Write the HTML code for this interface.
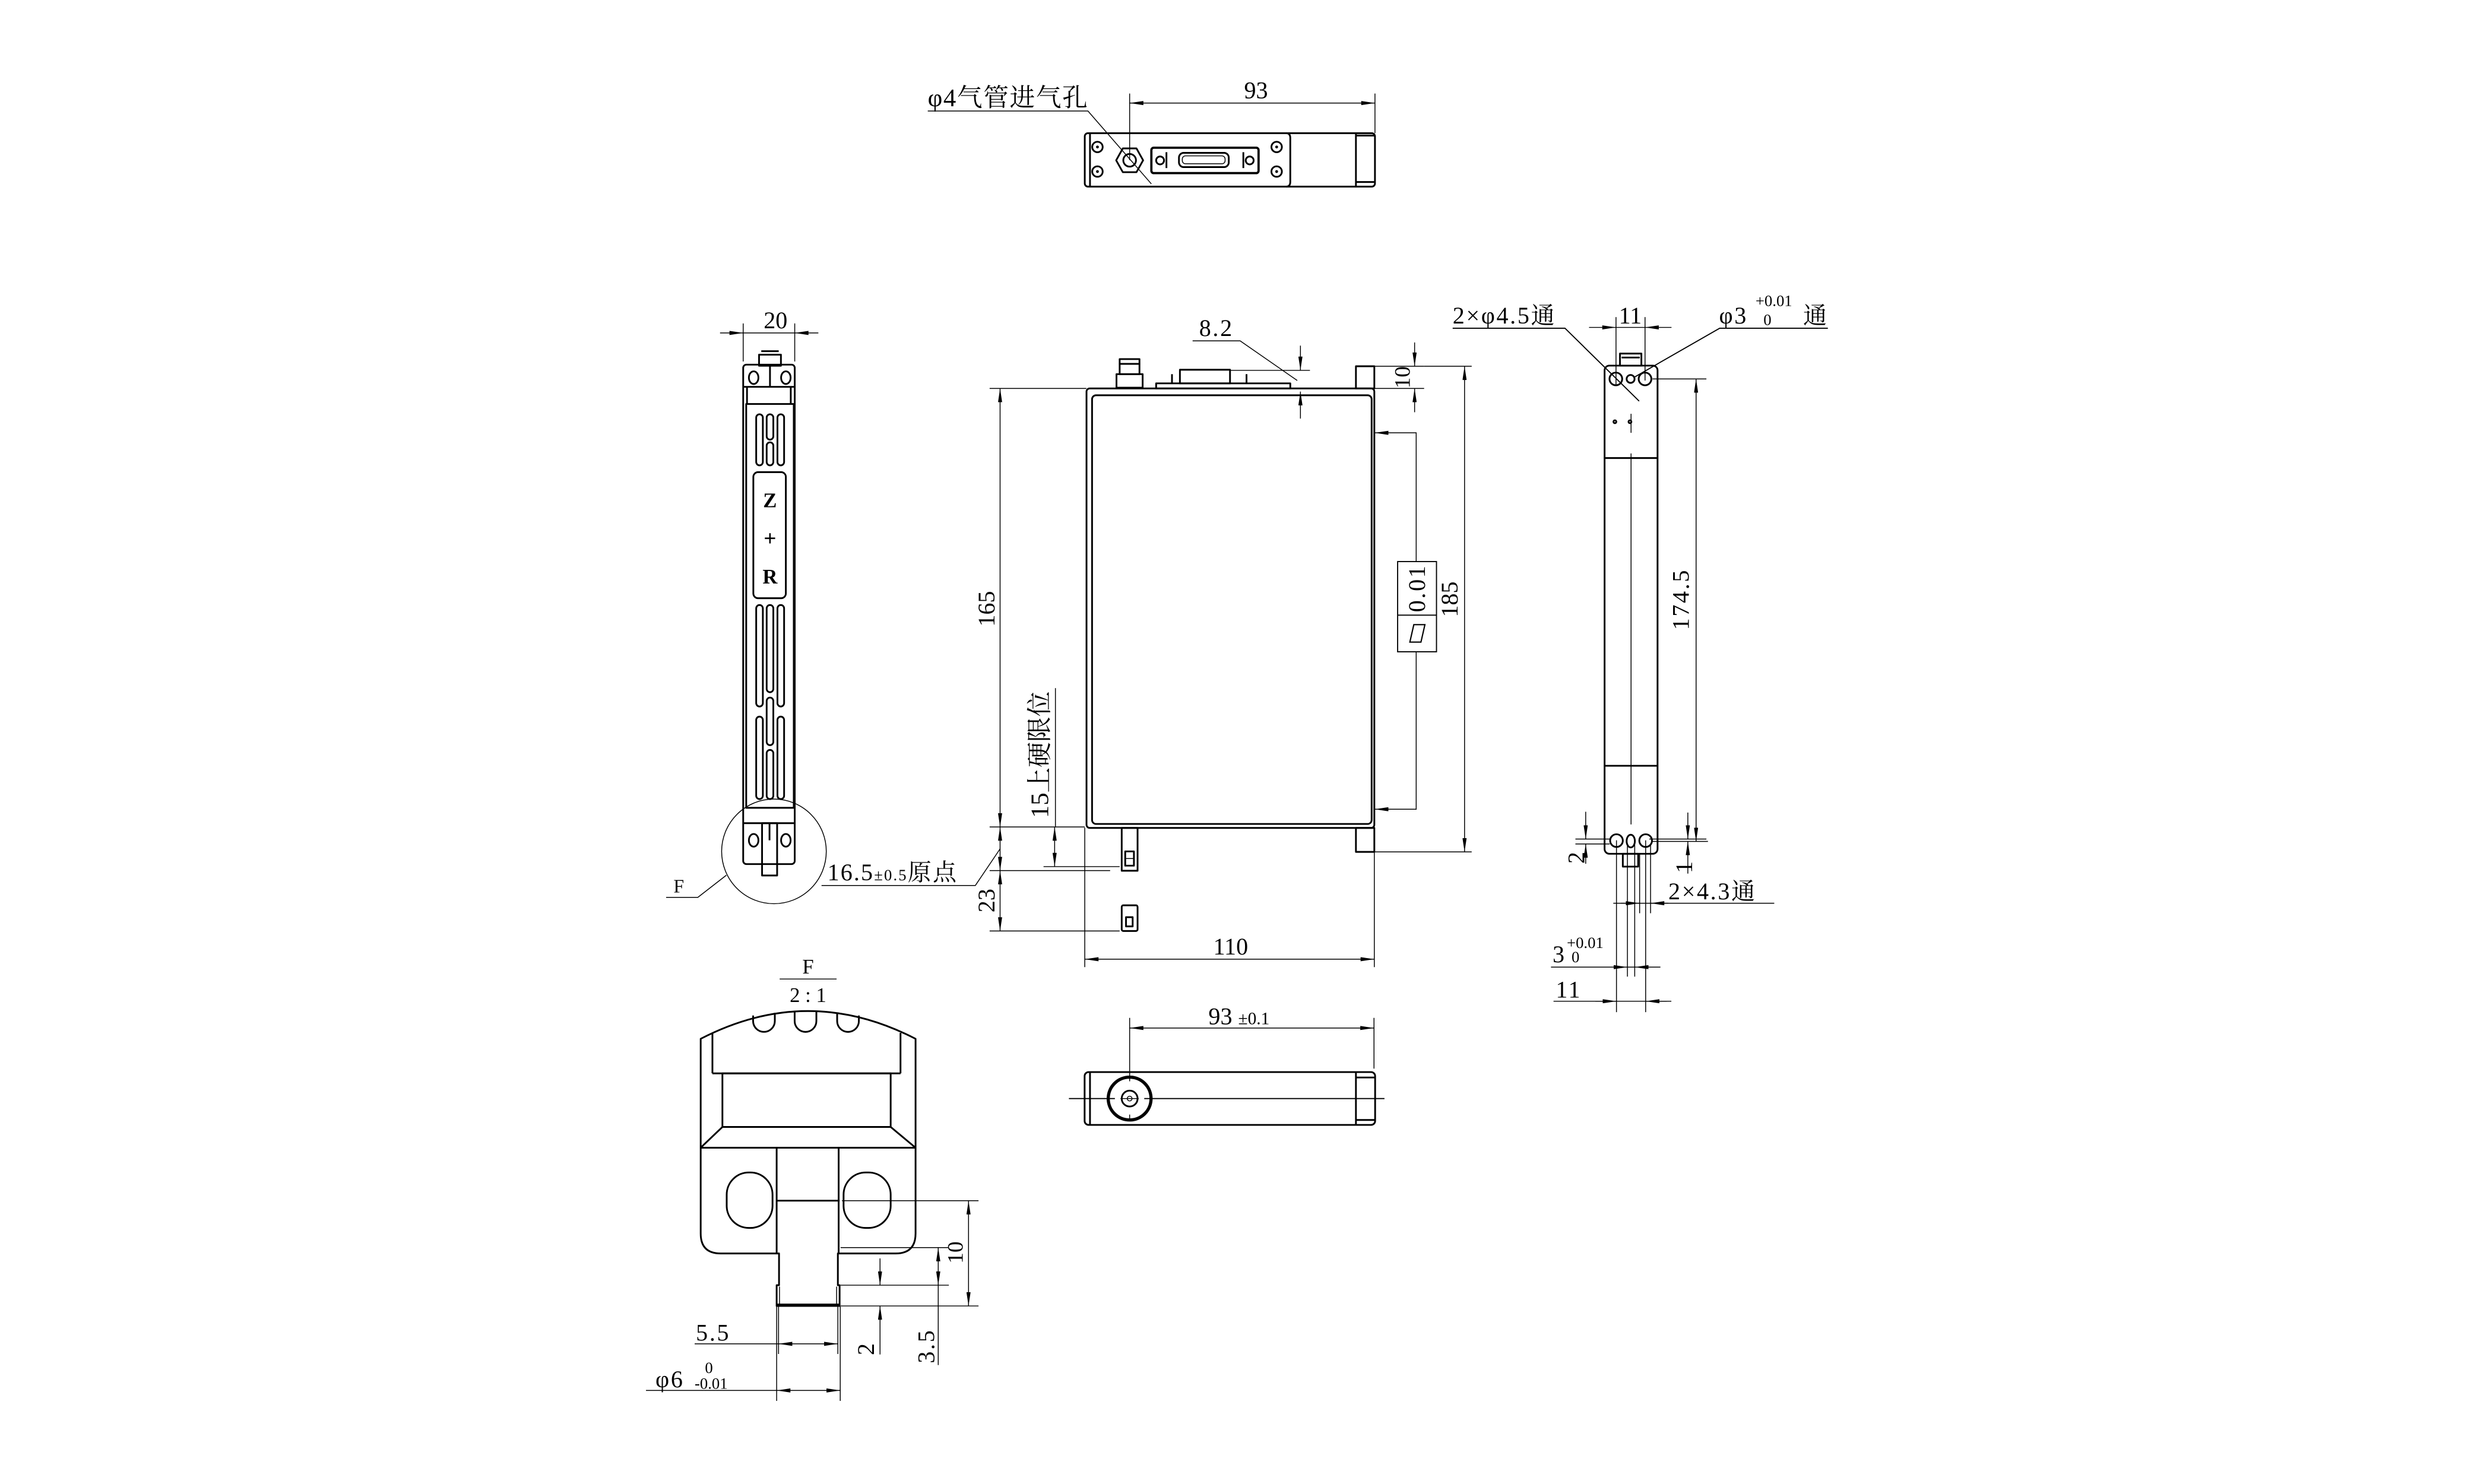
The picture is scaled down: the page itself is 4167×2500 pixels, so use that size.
<!DOCTYPE html>
<html><head><meta charset="utf-8"><style>
html,body{margin:0;padding:0;background:#fff;}
svg{display:block;}
.k{fill:none;stroke:#000;stroke-width:1.1;stroke-linejoin:round;}
.t{fill:none;stroke:#000;stroke-width:0.55;}
.d{fill:none;stroke:#000;stroke-width:0.55;marker-start:url(#a);marker-end:url(#a);}
.e{fill:none;stroke:#000;stroke-width:0.55;marker-end:url(#a);}
text{font-family:"Liberation Serif","Noto Serif CJK SC",serif;font-size:15px;fill:#000;}
.s{font-size:10px;}
.w{letter-spacing:1px;}
</style></head><body>
<svg width="4167" height="2500" viewBox="0 0 1560 936" xmlns="http://www.w3.org/2000/svg">
<defs>
<marker id="a" viewBox="0 0 10 3" refX="10" refY="1.5" markerWidth="9" markerHeight="2.6" markerUnits="userSpaceOnUse" orient="auto-start-reverse"><path d="M0,0 L10,1.5 L0,3 z" fill="#000"/></marker>
</defs>
<rect width="1560" height="936" fill="#fff"/>

<!-- ============ TOP VIEW ============ -->
<rect class="k" x="684" y="84" width="183" height="33.7" rx="2"/>
<line class="k" x1="687.3" y1="84" x2="687.3" y2="117.7"/>
<path class="k" d="M811,84 Q813.6,84 813.6,87 L813.6,114.7 Q813.6,117.7 811,117.7"/>
<line class="k" x1="855" y1="84" x2="855" y2="117.7"/>
<line class="k" x1="855" y1="85.5" x2="867" y2="85.5"/>
<line class="k" x1="855" y1="114.8" x2="867" y2="114.8"/>
<g class="k">
<circle cx="692" cy="92.7" r="3.3"/><circle cx="692" cy="108.2" r="3.3"/>
<circle cx="805" cy="92.7" r="3.3"/><circle cx="805" cy="108.2" r="3.3"/>
</g>
<g fill="#000"><circle cx="692" cy="92.7" r="0.9"/><circle cx="692" cy="108.2" r="0.9"/><circle cx="805" cy="92.7" r="0.9"/><circle cx="805" cy="108.2" r="0.9"/></g>
<polygon class="k" points="720.8,101.1 716.6,108.6 708,108.6 703.8,101.1 708,93.6 716.6,93.6"/>
<circle class="k" cx="712.3" cy="101.1" r="4"/>
<rect class="k" x="726" y="93.2" width="67.6" height="16" rx="1.5" style="stroke-width:1.4"/>
<rect class="k" x="743.4" y="96.4" width="31.4" height="9" rx="3"/>
<rect class="t" x="745.5" y="98.3" width="27" height="5" rx="2"/>
<circle class="k" cx="731.5" cy="101.2" r="2.5"/><circle class="k" cx="788" cy="101.2" r="2.5"/>
<line class="k" x1="735.5" y1="96" x2="735.5" y2="106"/><line class="k" x1="784" y1="96" x2="784" y2="106"/>
<line class="t" x1="712.3" y1="101" x2="712.3" y2="59"/>
<line class="t" x1="867" y1="84" x2="867" y2="59"/>
<line class="d" x1="712.3" y1="65" x2="867" y2="65"/>
<text x="792" y="62" text-anchor="middle">93</text>
<text x="585" y="67" style="font-size:16px;letter-spacing:0.6px">φ4气管进气孔</text>
<polyline class="t" points="585,70 686,70 726,116"/>

<!-- ============ MAIN FRONT VIEW ============ -->
<rect class="k" x="685.1" y="245" width="181.5" height="277.2" rx="2"/>
<rect class="k" x="688.6" y="249.3" width="176.3" height="270.4" rx="2.5"/>
<rect class="k" x="855" y="231" width="11.6" height="14"/>
<rect class="k" x="855" y="522.2" width="11.6" height="15.1"/>
<rect class="k" x="729" y="241.8" width="84.6" height="3.2"/>
<rect class="k" x="744" y="233.2" width="31.6" height="8.6"/>
<line class="k" x1="739" y1="236" x2="739" y2="241.8"/><line class="k" x1="786" y1="236" x2="786" y2="241.8"/>
<rect class="k" x="704" y="236" width="16.5" height="8.5"/>
<rect class="k" x="706" y="226.5" width="12.5" height="9.5"/>
<line class="k" x1="706" y1="229.5" x2="718.5" y2="229.5"/>
<rect class="k" x="707.3" y="522.2" width="10" height="27"/>
<rect class="k" x="709.5" y="537" width="5.5" height="9"/>
<line class="t" x1="709.5" y1="541.5" x2="715" y2="541.5"/>
<rect class="k" x="707.3" y="571" width="10" height="16.2" rx="1"/>
<rect class="k" x="710" y="578.5" width="4.2" height="5.8"/>
<line class="t" x1="624" y1="245" x2="685" y2="245"/>
<line class="t" x1="624" y1="521.6" x2="684" y2="521.6"/>
<line class="t" x1="624" y1="549.1" x2="700" y2="549.1"/>
<line class="t" x1="658" y1="546.6" x2="706" y2="546.6"/>
<line class="t" x1="624" y1="587.2" x2="706" y2="587.2"/>
<line class="t" x1="684" y1="522" x2="684" y2="610"/>
<line class="t" x1="866.6" y1="537" x2="866.6" y2="610"/>
<line class="d" x1="630.6" y1="245" x2="630.6" y2="521.6"/>
<text transform="translate(627,384) rotate(-90)" text-anchor="middle">165</text>
<line class="d" x1="630.6" y1="521.6" x2="630.6" y2="549.1"/>
<line class="d" x1="630.6" y1="549.1" x2="630.6" y2="587.2"/>
<text transform="translate(627,568) rotate(-90)" text-anchor="middle">23</text>
<line class="d" x1="665" y1="521.6" x2="665" y2="546.6"/>
<line class="t" x1="665.5" y1="434" x2="665.5" y2="521.6"/>
<text transform="translate(661,476) rotate(-90)" text-anchor="middle" style="font-size:16px">15上硬限位</text>
<text x="521.7" y="555.3" style="letter-spacing:0.8px">16.5<tspan class="s">±0.5</tspan>原点</text>
<polyline class="t" points="518,558.5 615,558.5 630.6,535.4"/>
<line class="d" x1="684" y1="605" x2="866.6" y2="605"/>
<text x="776" y="602" text-anchor="middle">110</text>
<line class="t" x1="776" y1="233.6" x2="826" y2="233.6"/>
<line class="e" x1="820" y1="218" x2="820" y2="233.6"/>
<line class="e" x1="820" y1="264" x2="820" y2="247"/>
<text x="767" y="212" text-anchor="middle" class="w">8.2</text>
<polyline class="t" points="752,215 782,215 818,240"/>
<line class="t" x1="867" y1="231" x2="898" y2="231"/>
<line class="t" x1="867" y1="245" x2="898" y2="245"/>
<line class="e" x1="892" y1="216" x2="892" y2="231"/>
<line class="e" x1="892" y1="260" x2="892" y2="245"/>
<text transform="translate(889,238) rotate(-90)" text-anchor="middle" style="font-size:14px">10</text>
<line class="t" x1="898" y1="231" x2="928" y2="231"/>
<line class="t" x1="867" y1="537.3" x2="928" y2="537.3"/>
<line class="d" x1="923.5" y1="231" x2="923.5" y2="537.3"/>
<text transform="translate(919,378) rotate(-90)" text-anchor="middle">185</text>
<polyline class="t" points="893,354 893,273 866.8,273" style="marker-end:url(#a)"/>
<polyline class="t" points="893,411 893,510.4 866.8,510.4" style="marker-end:url(#a)"/>
<rect class="t" x="881.3" y="354.2" width="24.5" height="56.9" style="stroke-width:0.7"/>
<line class="t" x1="881.3" y1="388" x2="905.8" y2="388" style="stroke-width:0.7"/>
<text transform="translate(898.5,371) rotate(-90)" text-anchor="middle" class="w">0.01</text>
<polygon class="t" points="889,405 896,405 898.5,394 891.5,394" style="stroke-width:0.8"/>

<!-- ============ LEFT SIDE VIEW ============ -->
<rect class="k" x="468.6" y="230" width="32.5" height="315" rx="2"/>
<rect class="k" x="478.6" y="223.7" width="13.8" height="7"/>
<line class="k" x1="480" y1="221.5" x2="491" y2="221.5"/>
<line class="k" x1="485.5" y1="230" x2="485.5" y2="244"/>
<ellipse class="k" cx="475.2" cy="238.2" rx="3" ry="4"/>
<ellipse class="k" cx="495.5" cy="238.2" rx="3" ry="4"/>
<line class="k" x1="468.6" y1="244" x2="501.1" y2="244"/>
<line class="k" x1="471" y1="244" x2="471" y2="254.8"/><line class="k" x1="498.6" y1="244" x2="498.6" y2="254.8"/>
<rect class="k" x="470.5" y="254.8" width="30" height="254.7"/>
<line class="k" x1="468.6" y1="519.2" x2="501.1" y2="519.2"/>
<ellipse class="k" cx="475.2" cy="530" rx="3" ry="4"/>
<ellipse class="k" cx="495.5" cy="530" rx="3" ry="4"/>
<rect class="k" x="480.5" y="519.2" width="9.5" height="33"/>
<line class="k" x1="485.2" y1="519.2" x2="485.2" y2="530"/>
<g class="k">
<rect x="476.8" y="261.3" width="4.2" height="32.2" rx="2.1"/>
<rect x="483.4" y="261.3" width="4.2" height="16" rx="2.1"/>
<rect x="483.4" y="279" width="4.2" height="14.5" rx="2.1"/>
<rect x="490.2" y="261.3" width="4.2" height="32.2" rx="2.1"/>
<rect x="476.8" y="381.6" width="4.2" height="64" rx="2.1"/>
<rect x="476.8" y="452" width="4.2" height="52" rx="2.1"/>
<rect x="483.4" y="381.6" width="4.2" height="55" rx="2.1"/>
<rect x="483.4" y="440" width="4.2" height="30" rx="2.1"/>
<rect x="483.4" y="473" width="4.2" height="31" rx="2.1"/>
<rect x="490.2" y="381.6" width="4.2" height="64" rx="2.1"/>
<rect x="490.2" y="452" width="4.2" height="52" rx="2.1"/>
</g>
<rect class="k" x="475" y="297.8" width="20.5" height="79.5" rx="3"/>
<text x="485.5" y="320" text-anchor="middle" style="font-weight:bold;font-size:13px">Z</text>
<text x="485.5" y="344" text-anchor="middle" style="font-weight:bold;font-size:14px">+</text>
<text x="485.5" y="368" text-anchor="middle" style="font-weight:bold;font-size:13px">R</text>
<line class="t" x1="468.6" y1="228" x2="468.6" y2="204"/>
<line class="t" x1="501.1" y1="228" x2="501.1" y2="204"/>
<line class="e" x1="454" y1="210" x2="468.6" y2="210"/>
<line class="e" x1="516" y1="210" x2="501.1" y2="210"/>
<line class="t" x1="468.6" y1="210" x2="501.1" y2="210"/>
<text x="489" y="207" text-anchor="middle">20</text>
<circle class="t" cx="488" cy="537" r="33"/>
<polyline class="t" points="420,566 440,566 458,552"/>
<text x="428" y="563" text-anchor="middle" style="font-size:12px">F</text>

<!-- ============ DETAIL F ============ -->
<text x="509.5" y="614" text-anchor="middle" style="font-size:13px">F</text>
<line class="t" x1="491.6" y1="617.5" x2="527.5" y2="617.5"/>
<text x="509.5" y="632" text-anchor="middle" style="font-size:13px">2 : 1</text>
<path class="k" d="M441.8,655.2 Q509.5,620.2 577.3,655.2 L577.3,778 Q577.3,790.6 564.7,790.6 L528.3,790.6 L528.3,810.6 L529.4,810.6 L529.4,823.7 L489.7,823.7 L489.7,810.6 L491.2,810.6 L491.2,790.6 L454.4,790.6 Q441.8,790.6 441.8,778 Z"/>
<line class="k" x1="449.2" y1="651.5" x2="449.2" y2="677"/>
<line class="k" x1="567.8" y1="651.5" x2="567.8" y2="677"/>
<line class="k" x1="449.2" y1="677" x2="567.8" y2="677"/>
<rect class="k" x="455.5" y="677" width="106.1" height="33.8"/>
<polyline class="k" points="441.8,723.9 455.5,710.8 561.6,710.8 577.3,723.9"/>
<line class="k" x1="441.8" y1="723.9" x2="577.3" y2="723.9"/>
<line class="k" x1="489.7" y1="723.9" x2="489.7" y2="790.6"/>
<line class="k" x1="528.8" y1="723.9" x2="528.8" y2="790.6"/>
<line class="k" x1="489.7" y1="757.3" x2="529.4" y2="757.3"/>
<line class="t" x1="491.5" y1="811.5" x2="491.5" y2="823"/><line class="t" x1="527.5" y1="811.5" x2="527.5" y2="823"/>
<line class="k" x1="490" y1="822.8" x2="529" y2="822.8"/>
<path class="k" d="M474.85,640.5 L474.85,644 A6.85,6.85 0 0 0 488.55,644 L488.55,638.8"/>
<path class="k" d="M501.05,637.9 L501.05,644 A6.85,6.85 0 0 0 514.75,644 L514.75,637.9"/>
<path class="k" d="M527.85,638.8 L527.85,644 A6.85,6.85 0 0 0 541.55,644 L541.55,640.5"/>
<rect class="k" x="458.2" y="739.5" width="28.9" height="35" rx="14"/>
<rect class="k" x="531.9" y="739.5" width="29.7" height="35" rx="14"/>
<line class="t" x1="530.9" y1="757.3" x2="617" y2="757.3"/>
<line class="t" x1="530" y1="823.7" x2="617" y2="823.7"/>
<line class="t" x1="530" y1="786.9" x2="598.3" y2="786.9"/>
<line class="t" x1="530" y1="810.6" x2="598.3" y2="810.6"/>
<line class="d" x1="610.7" y1="757.3" x2="610.7" y2="823.7"/>
<text transform="translate(607,790) rotate(-90)" text-anchor="middle" style="font-size:14px">10</text>
<line class="d" x1="591.6" y1="786.9" x2="591.6" y2="810.6"/>
<line class="t" x1="591.6" y1="810.6" x2="591.6" y2="861"/>
<text transform="translate(589,849) rotate(-90)" text-anchor="middle" class="w">3.5</text>
<line class="e" x1="554.9" y1="793.7" x2="554.9" y2="810.6"/>
<line class="e" x1="554.9" y1="854.3" x2="554.9" y2="823.7"/>
<text transform="translate(551,851) rotate(-90)" text-anchor="middle">2</text>
<line class="t" x1="490.9" y1="824" x2="490.9" y2="854"/>
<line class="t" x1="528.3" y1="824" x2="528.3" y2="854"/>
<line class="t" x1="438" y1="847.6" x2="490.9" y2="847.6"/>
<line class="d" x1="490.9" y1="847.6" x2="528.3" y2="847.6"/>
<text x="438.8" y="845.5" class="w">5.5</text>
<line class="t" x1="489.7" y1="824" x2="489.7" y2="883.6"/>
<line class="t" x1="529.8" y1="824" x2="529.8" y2="883.6"/>
<line class="t" x1="407.3" y1="877" x2="489.7" y2="877"/>
<line class="d" x1="489.7" y1="877" x2="529.8" y2="877"/>
<text x="413.3" y="875" class="w">φ6</text>
<text x="447" y="866" class="s" text-anchor="middle">0</text>
<text x="438" y="876" class="s">-0.01</text>

<!-- ============ RIGHT SIDE VIEW ============ -->
<rect class="k" x="1011.8" y="230.6" width="33.4" height="307.9" rx="3"/>
<rect class="k" x="1021.5" y="223" width="13.5" height="7.6"/>
<line class="k" x1="1022.5" y1="225.5" x2="1034" y2="225.5"/>
<line class="k" x1="1011.8" y1="288.9" x2="1045.2" y2="288.9"/>
<line class="k" x1="1011.8" y1="483" x2="1045.2" y2="483"/>
<line class="t" x1="1028.5" y1="261" x2="1028.5" y2="273"/>
<line class="t" x1="1028.5" y1="286" x2="1028.5" y2="520"/>
<circle class="k" cx="1018.9" cy="239" r="4"/>
<circle class="k" cx="1028.2" cy="239" r="2.5"/>
<circle class="k" cx="1037.3" cy="239" r="4"/>
<circle class="k" cx="1018.3" cy="266" r="0.9"/><circle class="k" cx="1027.8" cy="266" r="0.9"/>
<circle class="k" cx="1019.3" cy="530.2" r="4"/>
<ellipse class="k" cx="1028.3" cy="530.5" rx="2.6" ry="4"/>
<circle class="k" cx="1037.7" cy="530.2" r="4"/>
<rect class="k" x="1023.3" y="538.5" width="9.7" height="8.1"/>
<line class="t" x1="1019.3" y1="530" x2="1019.3" y2="638.4"/>
<line class="t" x1="1037.7" y1="530" x2="1037.7" y2="638.4"/>
<line class="t" x1="1026.2" y1="532" x2="1026.2" y2="616"/>
<line class="t" x1="1030.8" y1="532" x2="1030.8" y2="616"/>
<line class="t" x1="1033.9" y1="538" x2="1033.9" y2="576"/>
<line class="t" x1="1040.8" y1="532" x2="1040.8" y2="576"/>
<line class="t" x1="1019" y1="243" x2="1019" y2="200"/>
<line class="t" x1="1037.3" y1="240" x2="1037.3" y2="200"/>
<line class="e" x1="1002" y1="206.5" x2="1019" y2="206.5"/>
<line class="e" x1="1054" y1="206.5" x2="1037.3" y2="206.5"/>
<line class="t" x1="1019" y1="206.5" x2="1037.3" y2="206.5"/>
<text x="1028" y="204" text-anchor="middle">11</text>
<text x="916" y="204" class="w">2×φ4.5通</text>
<polyline class="t" points="916,207 986.8,207 1033.6,253" style="stroke-width:0.7"/>
<text x="1084" y="204" class="w">φ3</text>
<text x="1107" y="193" class="s">+0.01</text>
<text x="1112" y="205" class="s">0</text>
<text x="1137" y="204">通</text>
<polyline class="t" points="1152.6,207 1084.4,207 1030.9,237.7" style="stroke-width:0.7"/>
<line class="t" x1="1042" y1="239" x2="1076" y2="239"/>
<line class="t" x1="1042" y1="530.7" x2="1077" y2="530.7"/>
<line class="d" x1="1069.5" y1="239" x2="1069.5" y2="530.7"/>
<text transform="translate(1065,378) rotate(-90)" text-anchor="middle" class="w">174.5</text>
<line class="t" x1="993.4" y1="529.2" x2="1015" y2="529.2"/>
<line class="t" x1="993.4" y1="532.3" x2="1015" y2="532.3"/>
<line class="e" x1="999.9" y1="512" x2="999.9" y2="529.2"/>
<line class="e" x1="999.9" y1="544.8" x2="999.9" y2="532.3"/>
<text transform="translate(999,541) rotate(-90)" text-anchor="middle">2</text>
<line class="t" x1="1040" y1="529.2" x2="1076" y2="529.2"/>
<line class="e" x1="1064.3" y1="512.5" x2="1064.3" y2="529.2"/>
<line class="e" x1="1064.3" y1="551" x2="1064.3" y2="530.7"/>
<text transform="translate(1067,547) rotate(-90)" text-anchor="middle">1</text>
<line class="t" x1="1017.3" y1="569.7" x2="1118.8" y2="569.7"/>
<line class="e" x1="1022" y1="569.7" x2="1033.9" y2="569.7"/>
<line class="e" x1="1052" y1="569.7" x2="1040.8" y2="569.7"/>
<text x="1052" y="567.2" class="w">2×4.3通</text>
<line class="t" x1="978" y1="610" x2="1047" y2="610"/>
<line class="e" x1="1015" y1="610" x2="1026.2" y2="610"/>
<line class="e" x1="1042" y1="610" x2="1030.8" y2="610"/>
<text x="979" y="607">3</text>
<text x="988" y="598" class="s">+0.01</text>
<text x="991" y="607" class="s">0</text>
<line class="t" x1="979.6" y1="631.5" x2="1053.9" y2="631.5"/>
<line class="e" x1="1006" y1="631.5" x2="1019.3" y2="631.5"/>
<line class="e" x1="1051" y1="631.5" x2="1037.7" y2="631.5"/>
<text x="981" y="629.2" class="w">11</text>

<!-- ============ BOTTOM VIEW ============ -->
<rect class="k" x="683.9" y="676.2" width="183.2" height="33.3" rx="2.5"/>
<line class="k" x1="687.3" y1="676.2" x2="687.3" y2="709.5"/>
<line class="k" x1="855" y1="676.2" x2="855" y2="709.5"/>
<line class="k" x1="855" y1="679.6" x2="867" y2="679.6"/>
<line class="k" x1="855" y1="706.4" x2="867" y2="706.4"/>
<circle cx="712.3" cy="692.9" r="13.5" fill="none" stroke="#000" stroke-width="2"/>
<circle class="k" cx="712.3" cy="692.9" r="5"/>
<circle class="t" cx="712.3" cy="692.9" r="1.5"/>
<line class="t" x1="674" y1="692.9" x2="703" y2="692.9" style="stroke-width:0.7"/>
<line class="t" x1="706.5" y1="692.9" x2="718" y2="692.9"/>
<line class="t" x1="721.5" y1="692.9" x2="873" y2="692.9" style="stroke-width:0.7"/>
<line class="t" x1="712.3" y1="642" x2="712.3" y2="682"/>
<line class="t" x1="712.3" y1="703" x2="712.3" y2="707"/>
<line class="t" x1="866.4" y1="642" x2="866.4" y2="674"/>
<line class="d" x1="712.3" y1="648.4" x2="866.4" y2="648.4"/>
<text x="762" y="646">93 <tspan class="s" style="font-size:11px">±0.1</tspan></text>
</svg>
</body></html>
